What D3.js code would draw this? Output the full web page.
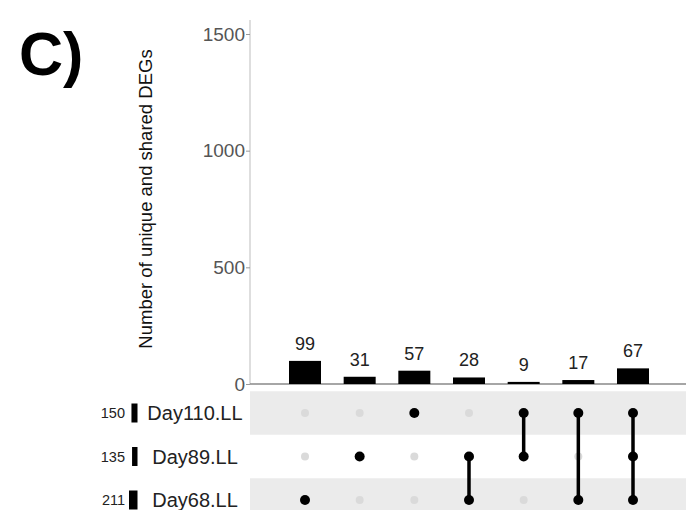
<!DOCTYPE html>
<html>
<head>
<meta charset="utf-8">
<script src="https://cdn.jsdelivr.net/npm/d3@7"></script>
<style>
  body { margin: 0; background: #fff; }
  svg { font-family: "Liberation Sans", Arial, sans-serif; }
</style>
</head>
<body>
<svg id="chart" width="686" height="510"></svg>
<script>
// intersection sizes, in drawing order
const counts = [99, 31, 57, 28, 9, 17, 67];
// set names, top to bottom in the matrix
const sets = ['Day110.LL', 'Day89.LL', 'Day68.LL'];
const setSizes = [150, 135, 211];
// which sets belong to each intersection
const members = [
    ['Day68.LL'],
    ['Day89.LL'],
    ['Day110.LL'],
    ['Day89.LL', 'Day68.LL'],
    ['Day110.LL', 'Day89.LL'],
    ['Day110.LL', 'Day68.LL'],
    ['Day110.LL', 'Day89.LL', 'Day68.LL']
];
const yTicks = [0, 500, 1000, 1500];

let width = 686, height = 510;
let svg = d3.select('#chart');

let axisX = 250;   // left edge of plot
let x = d3.scalePoint()
    .domain(d3.range(counts.length))
    .range([305, 633]);
let y = d3.scaleLinear()
    .domain([0, 1500])
    .range([384, 34]);
let row = d3.scalePoint()
    .domain(sets)
    .range([413, 500]);
let rowH = 43.5;
let barW = 32;

// panel label
svg.append('text')
    .attr('x', 19).attr('y', 75)
    .attr('font-size', 61).attr('font-weight', 'bold')
    .attr('fill', '#000')
    .text('C)');

// matrix background stripes
svg.append('g')
    .selectAll('rect')
    .data(sets.filter((d, i) => i % 2 === 0))
    .enter().append('rect')
    .attr('x', axisX)
    .attr('y', d => row(d) - rowH / 2)
    .attr('width', width - axisX)
    .attr('height', rowH)
    .attr('fill', '#ebebeb');

// y axis
svg.append('line')
    .attr('x1', axisX).attr('x2', axisX)
    .attr('y1', 20).attr('y2', y(0))
    .attr('stroke', '#dedede').attr('stroke-width', 2);

let axis_y = d3.axisLeft(y)
    .tickValues(yTicks)
    .tickSize(4)
    .tickPadding(1)
    .tickFormat(d => d);
let gy = svg.append('g')
    .attr('transform', `translate(${axisX}, 0)`)
    .call(axis_y);
gy.select('.domain').remove();
gy.selectAll('.tick line').attr('stroke', '#999');
gy.selectAll('.tick text')
    .attr('font-size', 19)
    .attr('fill', '#555')
    .attr('font-family', '"Liberation Sans", Arial, sans-serif');

// baseline
svg.append('line')
    .attr('x1', axisX).attr('x2', width)
    .attr('y1', y(0)).attr('y2', y(0))
    .attr('stroke', '#888').attr('stroke-width', 1.5);

// y axis title
svg.append('text')
    .attr('transform', `translate(152, 199) rotate(-90)`)
    .attr('text-anchor', 'middle')
    .attr('font-size', 18.5)
    .attr('fill', '#111')
    .text('Number of unique and shared DEGs');

// bars
svg.append('g')
    .selectAll('rect')
    .data(counts)
    .enter().append('rect')
    .attr('x', (d, i) => x(i) - barW / 2)
    .attr('y', d => y(d))
    .attr('width', barW)
    .attr('height', d => y(0) - y(d))
    .attr('fill', '#000');

svg.append('g')
    .selectAll('text')
    .data(counts)
    .enter().append('text')
    .attr('x', (d, i) => x(i))
    .attr('y', d => y(d) - 11)
    .attr('text-anchor', 'middle')
    .attr('font-size', 18)
    .attr('fill', '#222')
    .text(d => d);

// matrix dots, grey for absent
let cells = [];
members.forEach((m, i) => {
    sets.forEach(s => cells.push({ i: i, set: s, on: m.includes(s) }));
});
svg.append('g')
    .selectAll('circle')
    .data(cells.filter(c => !c.on))
    .enter().append('circle')
    .attr('cx', d => x(d.i))
    .attr('cy', d => row(d.set))
    .attr('r', 4)
    .attr('fill', '#dadada');

// connecting lines
svg.append('g')
    .selectAll('line')
    .data(members.map((m, i) => ({ i: i, m: m })).filter(d => d.m.length > 1))
    .enter().append('line')
    .attr('x1', d => x(d.i)).attr('x2', d => x(d.i))
    .attr('y1', d => d3.min(d.m, s => row(s)))
    .attr('y2', d => d3.max(d.m, s => row(s)))
    .attr('stroke', '#000')
    .attr('stroke-width', 3.5);

svg.append('g')
    .selectAll('circle')
    .data(cells.filter(c => c.on))
    .enter().append('circle')
    .attr('cx', d => x(d.i))
    .attr('cy', d => row(d.set))
    .attr('r', 5)
    .attr('fill', '#000');

// set size bars (grow leftwards)
let sz = d3.scaleLinear().domain([0, 211]).range([0, 8.5]);
let sizeRight = 137.5;
svg.append('g')
    .selectAll('rect')
    .data(sets)
    .enter().append('rect')
    .attr('x', (d, i) => sizeRight - sz(setSizes[i]))
    .attr('y', d => row(d) - 9.5)
    .attr('width', (d, i) => sz(setSizes[i]))
    .attr('height', 19)
    .attr('fill', '#000');

svg.append('g')
    .selectAll('text')
    .data(sets)
    .enter().append('text')
    .attr('x', 125)
    .attr('y', d => row(d) + 5)
    .attr('text-anchor', 'end')
    .attr('font-size', 14.5)
    .attr('fill', '#222')
    .text((d, i) => setSizes[i]);

// set names
svg.append('g')
    .selectAll('text')
    .data(sets)
    .enter().append('text')
    .attr('x', 195)
    .attr('y', d => row(d) + 7)
    .attr('text-anchor', 'middle')
    .attr('font-size', 20)
    .attr('fill', '#222')
    .text(d => d);
</script>
</body>
</html>
